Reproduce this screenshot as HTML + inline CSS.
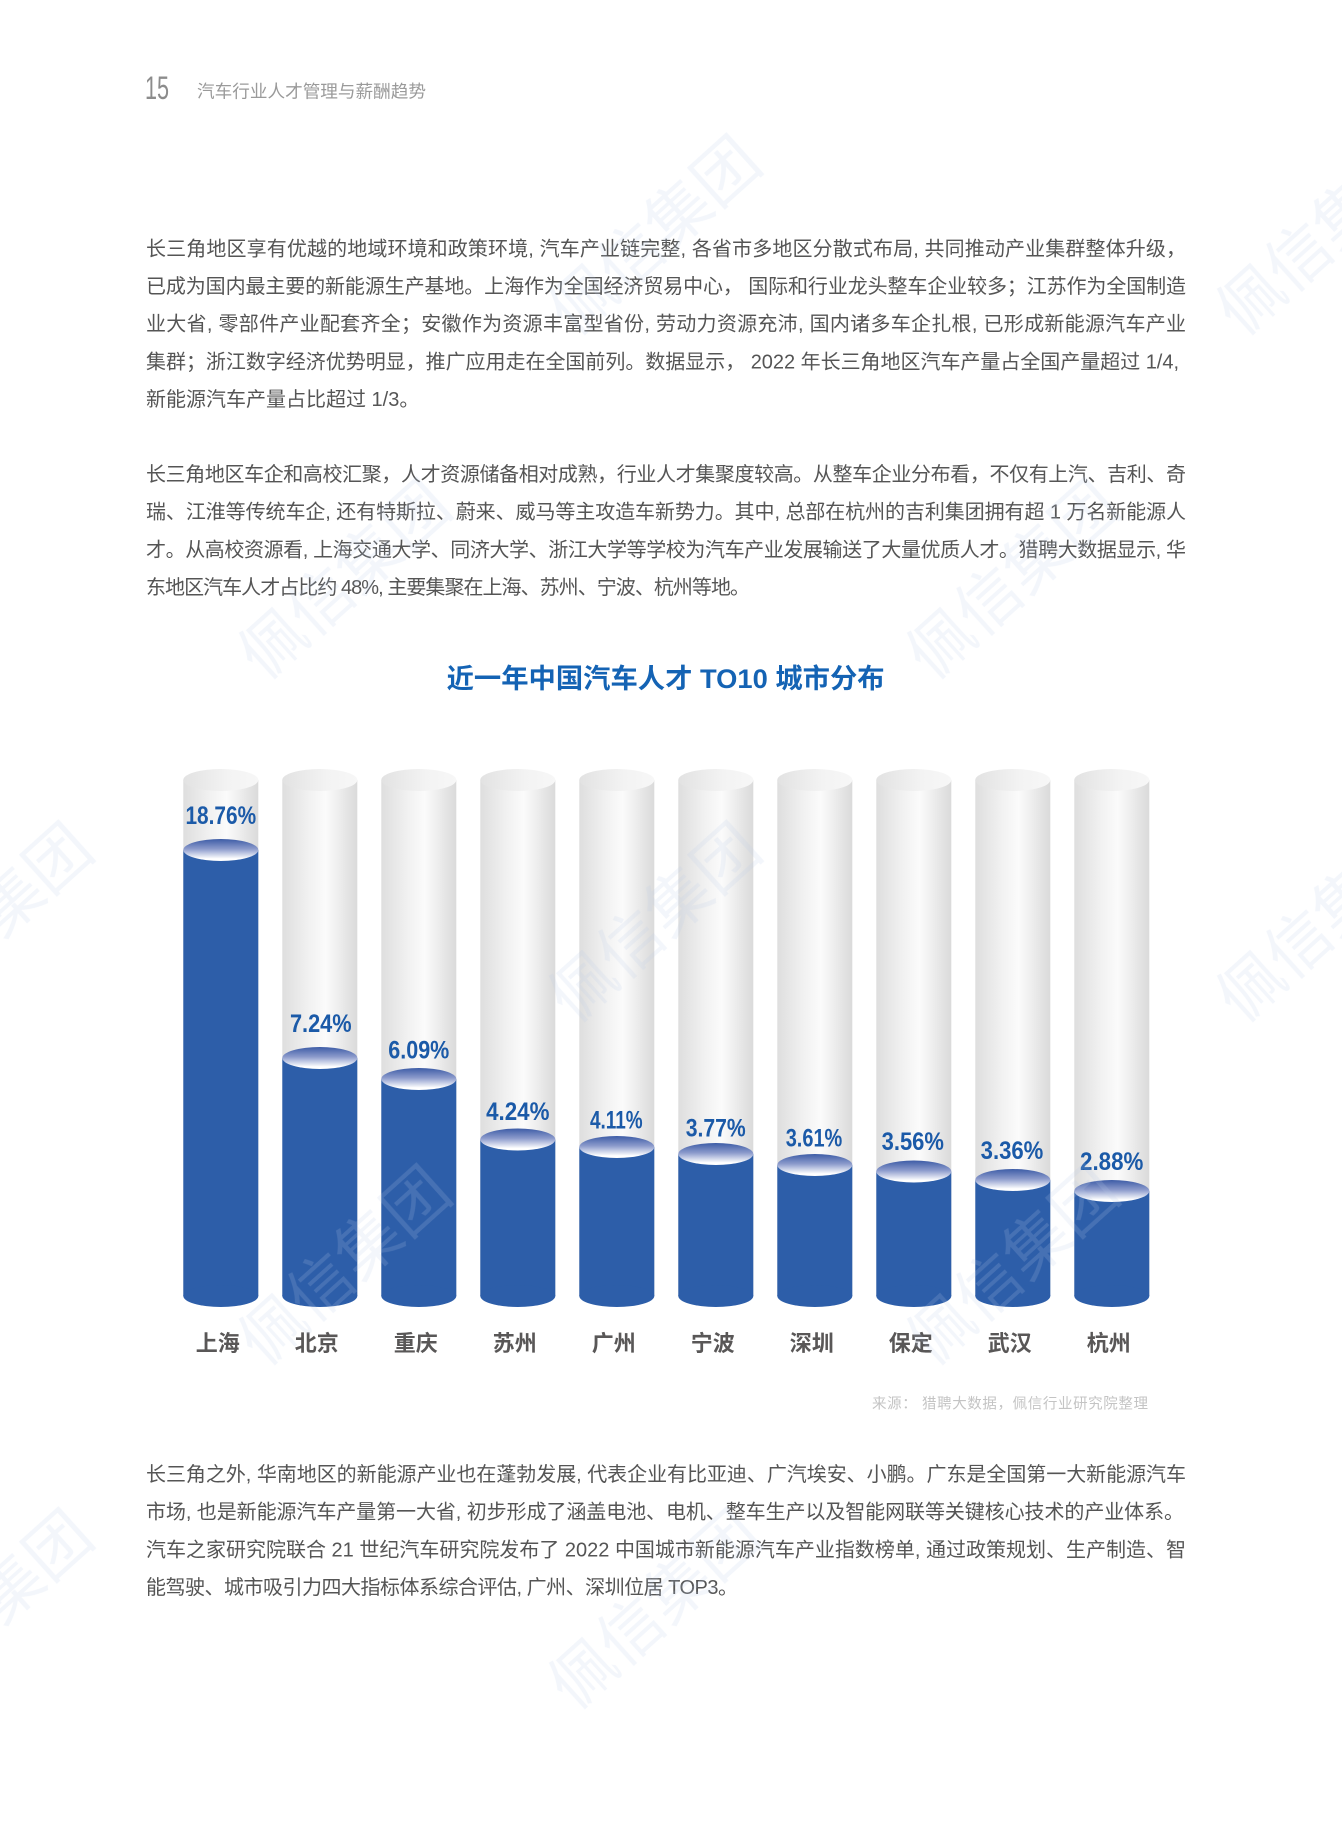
<!DOCTYPE html>
<html>
<head>
<meta charset="utf-8">
<style>
  html,body{margin:0;padding:0;background:#fff;}
  svg{display:block;}
  .body{font-family:"Liberation Sans","Noto Sans CJK SC",sans-serif;font-size:20px;fill:#555555;}
  .pct{font-family:"Liberation Sans","Noto Sans CJK SC",sans-serif;font-size:25px;font-weight:bold;fill:#1b5aa8;}
  .city{font-family:"Liberation Sans","Noto Sans CJK SC",sans-serif;font-size:22px;font-weight:bold;fill:#595757;}
  .wm{font-family:"Liberation Sans","Noto Sans CJK SC",sans-serif;font-size:64px;fill:#b9cbe8;opacity:0.18;}
</style>
</head>
<body>
<svg width="1342" height="1833" viewBox="0 0 1342 1833" xmlns="http://www.w3.org/2000/svg">
  <defs>
    <linearGradient id="gbody" x1="0" y1="0" x2="1" y2="0">
      <stop offset="0" stop-color="#dedede"/>
      <stop offset="0.35" stop-color="#f1f1f1"/>
      <stop offset="0.58" stop-color="#fbfbfb"/>
      <stop offset="1" stop-color="#dadada"/>
    </linearGradient>
    <linearGradient id="gtop" x1="0" y1="0" x2="1" y2="0">
      <stop offset="0" stop-color="#e2e2e2"/>
      <stop offset="0.6" stop-color="#f3f3f3"/>
      <stop offset="1" stop-color="#f7f7f7"/>
    </linearGradient>
    <linearGradient id="btop" x1="0" y1="0" x2="0" y2="1">
      <stop offset="0" stop-color="#3d5ca6"/>
      <stop offset="0.45" stop-color="#8c9bcc"/>
      <stop offset="0.9" stop-color="#ffffff"/>
      <stop offset="1" stop-color="#ffffff"/>
    </linearGradient>
  </defs>

  <rect x="0" y="0" width="1342" height="1833" fill="#ffffff"/>

  <!-- Header -->
  <text x="145" y="99" font-family="Liberation Sans, sans-serif" font-size="32" fill="#8c8c8c" textLength="24" lengthAdjust="spacingAndGlyphs">15</text>
  <text x="197" y="97.5" font-family="Liberation Sans, Noto Sans CJK SC, sans-serif" font-size="17.5" fill="#9a9a9a" textLength="229" lengthAdjust="spacingAndGlyphs">汽车行业人才管理与薪酬趋势</text>

  <!-- Paragraph 1 -->
  <text class="body" x="146" y="255.3" textLength="1040" lengthAdjust="spacing">长三角地区享有优越的地域环境和政策环境, 汽车产业链完整, 各省市多地区分散式布局, 共同推动产业集群整体升级，</text>
  <text class="body" x="146" y="293" textLength="1040" lengthAdjust="spacing">已成为国内最主要的新能源生产基地。上海作为全国经济贸易中心， 国际和行业龙头整车企业较多；江苏作为全国制造</text>
  <text class="body" x="146" y="330.7" textLength="1040" lengthAdjust="spacing">业大省, 零部件产业配套齐全；安徽作为资源丰富型省份, 劳动力资源充沛, 国内诸多车企扎根, 已形成新能源汽车产业</text>
  <text class="body" x="146" y="368.4" textLength="1033" lengthAdjust="spacing">集群；浙江数字经济优势明显，推广应用走在全国前列。数据显示， 2022 年长三角地区汽车产量占全国产量超过 1/4,</text>
  <text class="body" x="146" y="406">新能源汽车产量占比超过 1/3。</text>

  <!-- Paragraph 2 -->
  <text class="body" x="146" y="480.9" textLength="1040" lengthAdjust="spacing">长三角地区车企和高校汇聚，人才资源储备相对成熟，行业人才集聚度较高。从整车企业分布看，不仅有上汽、吉利、奇</text>
  <text class="body" x="146" y="518.6" textLength="1040" lengthAdjust="spacing">瑞、江淮等传统车企, 还有特斯拉、蔚来、威马等主攻造车新势力。其中, 总部在杭州的吉利集团拥有超 1 万名新能源人</text>
  <text class="body" x="146" y="556.3" textLength="1040" lengthAdjust="spacing">才。从高校资源看, 上海交通大学、同济大学、浙江大学等学校为汽车产业发展输送了大量优质人才。猎聘大数据显示, 华</text>
  <text class="body" x="146" y="594" textLength="604" lengthAdjust="spacing">东地区汽车人才占比约 48%, 主要集聚在上海、苏州、宁波、杭州等地。</text>

  <!-- Chart title -->
  <text x="446.6" y="688" font-family="Liberation Sans, Noto Sans CJK SC, sans-serif" font-size="27" font-weight="bold" fill="#1463b4" textLength="438" lengthAdjust="spacingAndGlyphs">近一年中国汽车人才 TO10 城市分布</text>

  <!-- Cylinders -->
  <g>
    <rect x="183.3" y="780" width="75" height="516" fill="url(#gbody)"/>
    <ellipse cx="220.8" cy="780" rx="37.5" ry="11" fill="url(#gtop)"/>
    <rect x="183.3" y="850" width="75" height="446" fill="#2d5ea9"/>
    <ellipse cx="220.8" cy="1296" rx="37.5" ry="11" fill="#2d5ea9"/>
    <ellipse cx="220.8" cy="850" rx="37.5" ry="11" fill="url(#btop)"/>

    <rect x="282.3" y="780" width="75" height="516" fill="url(#gbody)"/>
    <ellipse cx="319.8" cy="780" rx="37.5" ry="11" fill="url(#gtop)"/>
    <rect x="282.3" y="1058" width="75" height="238" fill="#2d5ea9"/>
    <ellipse cx="319.8" cy="1296" rx="37.5" ry="11" fill="#2d5ea9"/>
    <ellipse cx="319.8" cy="1058" rx="37.5" ry="11" fill="url(#btop)"/>

    <rect x="381.3" y="780" width="75" height="516" fill="url(#gbody)"/>
    <ellipse cx="418.8" cy="780" rx="37.5" ry="11" fill="url(#gtop)"/>
    <rect x="381.3" y="1079" width="75" height="217" fill="#2d5ea9"/>
    <ellipse cx="418.8" cy="1296" rx="37.5" ry="11" fill="#2d5ea9"/>
    <ellipse cx="418.8" cy="1079" rx="37.5" ry="11" fill="url(#btop)"/>

    <rect x="480.3" y="780" width="75" height="516" fill="url(#gbody)"/>
    <ellipse cx="517.8" cy="780" rx="37.5" ry="11" fill="url(#gtop)"/>
    <rect x="480.3" y="1139.5" width="75" height="156.5" fill="#2d5ea9"/>
    <ellipse cx="517.8" cy="1296" rx="37.5" ry="11" fill="#2d5ea9"/>
    <ellipse cx="517.8" cy="1139.5" rx="37.5" ry="11" fill="url(#btop)"/>

    <rect x="579.3" y="780" width="75" height="516" fill="url(#gbody)"/>
    <ellipse cx="616.8" cy="780" rx="37.5" ry="11" fill="url(#gtop)"/>
    <rect x="579.3" y="1147" width="75" height="149" fill="#2d5ea9"/>
    <ellipse cx="616.8" cy="1296" rx="37.5" ry="11" fill="#2d5ea9"/>
    <ellipse cx="616.8" cy="1147" rx="37.5" ry="11" fill="url(#btop)"/>

    <rect x="678.3" y="780" width="75" height="516" fill="url(#gbody)"/>
    <ellipse cx="715.8" cy="780" rx="37.5" ry="11" fill="url(#gtop)"/>
    <rect x="678.3" y="1154" width="75" height="142" fill="#2d5ea9"/>
    <ellipse cx="715.8" cy="1296" rx="37.5" ry="11" fill="#2d5ea9"/>
    <ellipse cx="715.8" cy="1154" rx="37.5" ry="11" fill="url(#btop)"/>

    <rect x="777.3" y="780" width="75" height="516" fill="url(#gbody)"/>
    <ellipse cx="814.8" cy="780" rx="37.5" ry="11" fill="url(#gtop)"/>
    <rect x="777.3" y="1165" width="75" height="131" fill="#2d5ea9"/>
    <ellipse cx="814.8" cy="1296" rx="37.5" ry="11" fill="#2d5ea9"/>
    <ellipse cx="814.8" cy="1165" rx="37.5" ry="11" fill="url(#btop)"/>

    <rect x="876.3" y="780" width="75" height="516" fill="url(#gbody)"/>
    <ellipse cx="913.8" cy="780" rx="37.5" ry="11" fill="url(#gtop)"/>
    <rect x="876.3" y="1171.5" width="75" height="124.5" fill="#2d5ea9"/>
    <ellipse cx="913.8" cy="1296" rx="37.5" ry="11" fill="#2d5ea9"/>
    <ellipse cx="913.8" cy="1171.5" rx="37.5" ry="11" fill="url(#btop)"/>

    <rect x="975.3" y="780" width="75" height="516" fill="url(#gbody)"/>
    <ellipse cx="1012.8" cy="780" rx="37.5" ry="11" fill="url(#gtop)"/>
    <rect x="975.3" y="1180" width="75" height="116" fill="#2d5ea9"/>
    <ellipse cx="1012.8" cy="1296" rx="37.5" ry="11" fill="#2d5ea9"/>
    <ellipse cx="1012.8" cy="1180" rx="37.5" ry="11" fill="url(#btop)"/>

    <rect x="1074.3" y="780" width="75" height="516" fill="url(#gbody)"/>
    <ellipse cx="1111.8" cy="780" rx="37.5" ry="11" fill="url(#gtop)"/>
    <rect x="1074.3" y="1191" width="75" height="105" fill="#2d5ea9"/>
    <ellipse cx="1111.8" cy="1296" rx="37.5" ry="11" fill="#2d5ea9"/>
    <ellipse cx="1111.8" cy="1191" rx="37.5" ry="11" fill="url(#btop)"/>
  </g>

  <!-- Percent labels -->
  <text class="pct" x="220.8" y="824" text-anchor="middle" textLength="70.7" lengthAdjust="spacingAndGlyphs">18.76%</text>
  <text class="pct" x="320.8" y="1032" text-anchor="middle" textLength="61.7" lengthAdjust="spacingAndGlyphs">7.24%</text>
  <text class="pct" x="418.8" y="1058.3" text-anchor="middle" textLength="61" lengthAdjust="spacingAndGlyphs">6.09%</text>
  <text class="pct" x="517.8" y="1120" text-anchor="middle" textLength="63.3" lengthAdjust="spacingAndGlyphs">4.24%</text>
  <text class="pct" x="616.3" y="1128.3" text-anchor="middle" textLength="52.7" lengthAdjust="spacingAndGlyphs">4.11%</text>
  <text class="pct" x="715.7" y="1136.7" text-anchor="middle" textLength="60" lengthAdjust="spacingAndGlyphs">3.77%</text>
  <text class="pct" x="814" y="1146.7" text-anchor="middle" textLength="56.6" lengthAdjust="spacingAndGlyphs">3.61%</text>
  <text class="pct" x="912.8" y="1150" text-anchor="middle" textLength="62.3" lengthAdjust="spacingAndGlyphs">3.56%</text>
  <text class="pct" x="1012" y="1159" text-anchor="middle" textLength="62.7" lengthAdjust="spacingAndGlyphs">3.36%</text>
  <text class="pct" x="1111.7" y="1170" text-anchor="middle" textLength="63.3" lengthAdjust="spacingAndGlyphs">2.88%</text>

  <!-- City labels -->
  <text class="city" x="217.8" y="1351" text-anchor="middle">上海</text>
  <text class="city" x="316.8" y="1351" text-anchor="middle">北京</text>
  <text class="city" x="415.8" y="1351" text-anchor="middle">重庆</text>
  <text class="city" x="514.8" y="1351" text-anchor="middle">苏州</text>
  <text class="city" x="613.8" y="1351" text-anchor="middle">广州</text>
  <text class="city" x="712.8" y="1351" text-anchor="middle">宁波</text>
  <text class="city" x="811.8" y="1351" text-anchor="middle">深圳</text>
  <text class="city" x="910.8" y="1351" text-anchor="middle">保定</text>
  <text class="city" x="1009.8" y="1351" text-anchor="middle">武汉</text>
  <text class="city" x="1108.8" y="1351" text-anchor="middle">杭州</text>

  <!-- Source -->
  <text x="1148" y="1408.5" text-anchor="end" font-family="Liberation Sans, Noto Sans CJK SC, sans-serif" font-size="14.5" fill="#c4c4c4" textLength="276" lengthAdjust="spacing">来源：  猎聘大数据，佩信行业研究院整理</text>

  <!-- Paragraph 3 -->
  <text class="body" x="146" y="1480.9" textLength="1040" lengthAdjust="spacing">长三角之外, 华南地区的新能源产业也在蓬勃发展, 代表企业有比亚迪、广汽埃安、小鹏。广东是全国第一大新能源汽车</text>
  <text class="body" x="146" y="1518.6" textLength="1038" lengthAdjust="spacing">市场, 也是新能源汽车产量第一大省, 初步形成了涵盖电池、电机、整车生产以及智能网联等关键核心技术的产业体系。</text>
  <text class="body" x="146" y="1556.3" textLength="1040" lengthAdjust="spacing">汽车之家研究院联合 21 世纪汽车研究院发布了 2022 中国城市新能源汽车产业指数榜单, 通过政策规划、生产制造、智</text>
  <text class="body" x="146" y="1594" textLength="592" lengthAdjust="spacing">能驾驶、城市吸引力四大指标体系综合评估, 广州、深圳位居 TOP3。</text>

  <!-- Watermarks -->
  <g class="wm" text-anchor="middle">
    <text x="0" y="0" transform="translate(655,236) rotate(-42)" dy="22">佩信集团</text>
    <text x="0" y="0" transform="translate(1323,236) rotate(-42)" dy="22">佩信集团</text>
    <text x="0" y="0" transform="translate(345,580) rotate(-42)" dy="22">佩信集团</text>
    <text x="0" y="0" transform="translate(1013,580) rotate(-42)" dy="22">佩信集团</text>
    <text x="0" y="0" transform="translate(-13,923) rotate(-42)" dy="22">佩信集团</text>
    <text x="0" y="0" transform="translate(655,923) rotate(-42)" dy="22">佩信集团</text>
    <text x="0" y="0" transform="translate(1323,923) rotate(-42)" dy="22">佩信集团</text>
    <text x="0" y="0" transform="translate(345,1266) rotate(-42)" dy="22">佩信集团</text>
    <text x="0" y="0" transform="translate(1013,1266) rotate(-42)" dy="22">佩信集团</text>
    <text x="0" y="0" transform="translate(-13,1610) rotate(-42)" dy="22">佩信集团</text>
    <text x="0" y="0" transform="translate(655,1610) rotate(-42)" dy="22">佩信集团</text>
  </g>
</svg>
</body>
</html>
